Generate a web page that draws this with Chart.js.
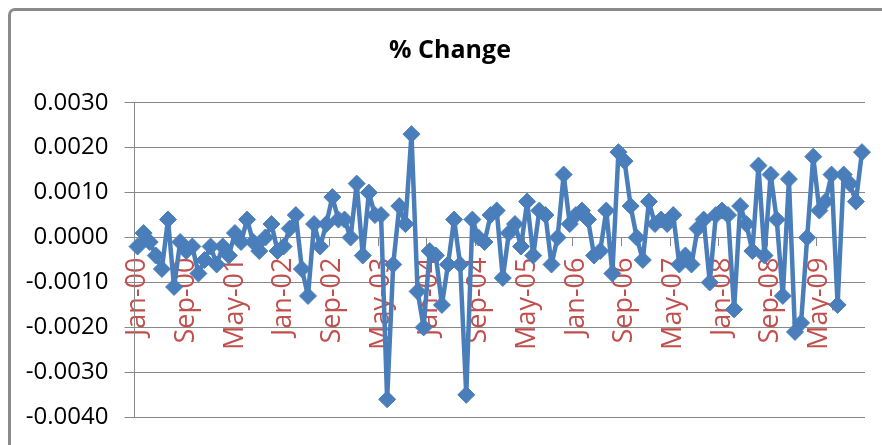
<!DOCTYPE html>
<html>
<head>
<meta charset="utf-8">
<title>% Change</title>
<script src="https://cdn.jsdelivr.net/npm/chart.js@4/dist/chart.umd.min.js"></script>
<style>
  html, body { margin: 0; padding: 0; width: 882px; height: 445px; overflow: hidden; background: #ffffff; }
  #frame {
    position: absolute; left: 8px; top: 8px; width: 940px; height: 520px;
    border-left: 3px solid #8a8a8a; border-top: 3px solid #8a8a8a;
    border-radius: 7px 0 0 0;
  }
  #wrap { position: absolute; left: 0; top: 0; width: 900px; height: 460px; }
</style>
</head>
<body>
<div id="frame"></div>
<div id="wrap"><canvas id="chart" width="900" height="460"></canvas></div>
<script>
// Monthly categories, Jan-00 .. Dec-09
const MONTHS = ['Jan', 'Feb', 'Mar', 'Apr', 'May', 'Jun', 'Jul', 'Aug', 'Sep', 'Oct', 'Nov', 'Dec'];
const YEARS = ['00', '01', '02', '03', '04', '05', '06', '07', '08', '09'];
const CATEGORIES = [];
YEARS.forEach(y => MONTHS.forEach(m => CATEGORIES.push(m + '-' + y)));

// Month-on-month % change
const PCT_CHANGE = [
  -0.0002,  0.0001, -0.0001, -0.0004, -0.0007,  0.0004, -0.0011, -0.0001, -0.0003, -0.0002, -0.0008, -0.0005,
  -0.0002, -0.0006, -0.0002, -0.0004,  0.0001, -0.0001,  0.0004, -0.0001, -0.0003,  0.0000,  0.0003, -0.0003,
  -0.0002,  0.0002,  0.0005, -0.0007, -0.0013,  0.0003, -0.0002,  0.0003,  0.0009,  0.0004,  0.0004,  0.0000,
   0.0012, -0.0004,  0.0010,  0.0005,  0.0005, -0.0036, -0.0006,  0.0007,  0.0003,  0.0023, -0.0012, -0.0020,
  -0.0003, -0.0004, -0.0015, -0.0006,  0.0004, -0.0006, -0.0035,  0.0004,  0.0000, -0.0001,  0.0005,  0.0006,
  -0.0009,  0.0001,  0.0003, -0.0002,  0.0008, -0.0004,  0.0006,  0.0005, -0.0006,  0.0000,  0.0014,  0.0003,
   0.0005,  0.0006,  0.0004, -0.0004, -0.0003,  0.0006, -0.0008,  0.0019,  0.0017,  0.0007,  0.0000, -0.0005,
   0.0008,  0.0003,  0.0004,  0.0003,  0.0005, -0.0006, -0.0004, -0.0006,  0.0002,  0.0004, -0.0010,  0.0005,
   0.0006,  0.0005, -0.0016,  0.0007,  0.0003, -0.0003,  0.0016, -0.0004,  0.0014,  0.0004, -0.0013,  0.0013,
  -0.0021, -0.0019,  0.0000,  0.0018,  0.0006,  0.0008,  0.0014, -0.0015,  0.0014,  0.0012,  0.0008,  0.0019
];

// Value axis range and category label interval
const Y_MIN = -0.004;
const Y_MAX = 0.003;
const Y_STEP = 0.001;
const LABEL_EVERY = 8;

const BLUE = '#4a7ebb';
const RED = '#c0504d';
const GRID = '#888888';
const FONT = "'Open Sans', 'DejaVu Sans', sans-serif";

new Chart(document.getElementById('chart'), {
  type: 'line',
  data: {
    labels: CATEGORIES,
    datasets: [{
      label: '% Change',
      data: PCT_CHANGE,
      borderColor: BLUE,
      backgroundColor: BLUE,
      borderWidth: 4.5,
      borderJoinStyle: 'round',
      tension: 0,
      pointStyle: 'rectRot',
      pointRadius: 8.5,
      pointBorderWidth: 1,
      pointBackgroundColor: BLUE,
      pointBorderColor: BLUE,
      clip: false
    }]
  },
  options: {
    responsive: false,
    animation: false,
    devicePixelRatio: 1,
    layout: { padding: { left: 0, right: 0, top: 0, bottom: 42.7 } },
    plugins: {
      legend: { display: false },
      tooltip: { enabled: false },
      title: {
        display: true,
        text: '% Change',
        color: '#000000',
        font: { family: FONT, size: 25, weight: 'bold', lineHeight: 1.2 },
        padding: { top: 36, bottom: 36.7 }
      }
    },
    scales: {
      x: {
        type: 'category',
        position: { y: 0 },
        offset: true,
        // labels hang over the plot, so they need no side margins
        afterFit: s => { s.paddingLeft = 0; s.paddingRight = 0; },
        grid: {
          offset: true,
          drawOnChartArea: false,
          drawTicks: true,
          tickLength: 8,
          color: c => (c.index % LABEL_EVERY === 0 ? GRID : 'rgba(0,0,0,0)'),
          lineWidth: 1
        },
        border: { display: true, color: GRID, width: 1 },
        ticks: {
          autoSkip: false,
          minRotation: 90,
          maxRotation: 90,
          padding: 12,
          color: RED,
          font: { family: FONT, size: 27 },
          callback: (v, i) => (i % LABEL_EVERY === 0 ? CATEGORIES[i] : '')
        }
      },
      y: {
        min: Y_MIN,
        max: Y_MAX,
        afterFit: s => { s.width = 134.5; },
        grid: { color: GRID, lineWidth: 1, drawTicks: true, tickLength: 10 },
        border: { display: true, color: GRID, width: 1 },
        ticks: {
          stepSize: Y_STEP,
          padding: 16,
          color: '#000000',
          font: { family: FONT, size: 24 },
          callback: v => Number(v).toFixed(4)
        }
      },
      // empty right-hand margin of the plot
      yRight: {
        position: 'right',
        display: true,
        grid: { display: false },
        border: { display: false },
        ticks: { display: false },
        afterFit: s => { s.width = 35; }
      }
    }
  }
});
</script>
</body>
</html>
